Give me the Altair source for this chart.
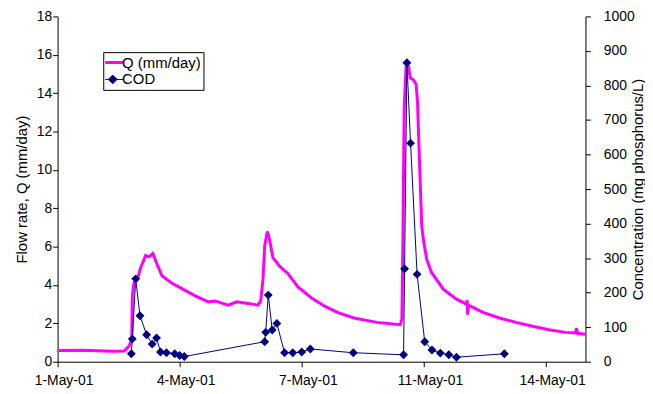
import altair as alt
import pandas as pd

# Flow rate series (day of May 2001, decimal) and Q (mm/day)
q_day = [1.000, 1.699, 2.527, 2.851, 2.989, 3.063, 3.080, 3.127, 3.218, 3.312,
         3.450, 3.541, 3.652, 3.770, 3.908, 4.185, 4.461, 4.831, 5.198, 5.383,
         5.751, 5.980, 6.303, 6.579, 6.654, 6.717, 6.764, 6.836, 6.902, 6.993,
         7.178, 7.408, 7.684, 8.051, 8.421, 8.789, 9.250, 9.894, 10.537, 10.584,
         10.612, 10.648, 10.703, 10.769, 10.813, 10.907, 10.979, 11.018, 11.045, 11.137,
         11.184, 11.275, 11.413, 11.736, 12.103, 12.379, 12.400, 12.415, 12.435, 12.841,
         13.299, 13.760, 14.222, 14.680, 15.140, 15.416, 15.444, 15.472, 15.694]
q_val = [0.58, 0.60, 0.55, 0.56, 0.81, 1.19, 3.43, 4.12, 4.29, 4.90,
         5.54, 5.47, 5.64, 5.07, 4.47, 4.09, 3.81, 3.43, 3.12, 3.17,
         2.95, 3.12, 3.04, 2.95, 3.17, 4.29, 6.02, 6.79, 6.36, 5.42,
         4.98, 4.60, 3.91, 3.35, 2.91, 2.57, 2.28, 2.05, 1.93, 2.22,
         6.36, 13.26, 15.50, 15.40, 14.80, 14.68, 14.47, 13.60, 12.00, 7.05,
         6.36, 5.33, 4.64, 3.78, 3.26, 3.00, 3.20, 2.45, 2.95, 2.57,
         2.28, 2.05, 1.85, 1.67, 1.53, 1.50, 1.75, 1.48, 1.43]

# COD samples (day of May 2001, decimal) and concentration
cod_day = [3.052, 3.080, 3.174, 3.293, 3.478, 3.632, 3.754, 3.864, 4.030, 4.259,
           4.397, 4.527, 6.764, 6.792, 6.864, 6.974, 7.104, 7.317, 7.546, 7.795,
           8.035, 9.231, 10.631, 10.659, 10.723, 10.825, 11.007, 11.219, 11.421, 11.653,
           11.890, 12.103, 13.437]
cod_val = [23, 66, 240, 133, 78, 51, 69, 28, 26, 23,
           18, 15, 58, 85, 193, 92, 111, 26, 26, 28,
           37, 26, 20, 269, 866, 633, 253, 58, 34, 25,
           20, 13, 23]

series_names = ["Q (mm/day)", "COD"]
series_colors = ["#FF00FF", "#000080"]
x_ticks = [1, 4.4, 7.8, 11.2, 14.6]
q_ticks = list(range(0, 19, 2))
cod_ticks = list(range(0, 1001, 100))

df_q = pd.DataFrame({"day": q_day, "Q": q_val, "series": series_names[0]})
df_c = pd.DataFrame({"day": cod_day, "COD": cod_val, "series": series_names[1]})

FONT = "Liberation Sans"
COD_SYMBOL = "M-1,0H1M0,-0.38L0.38,0L0,0.38L-0.38,0Z"

x_enc = alt.X("day:Q",
              scale=alt.Scale(domain=[1, 15.694], nice=False, zero=False),
              axis=alt.Axis(values=x_ticks, labelExpr="floor(datum.value) + '-May-01'",
                            title=None, grid=False, tickSize=5, labelPadding=7,
                            labelOffset=6, labelFlush=False,
                            labelFontSize=14, labelColor="black",
                            domainColor="black", tickColor="black"))

color_enc = alt.Color(
    "series:N",
    scale=alt.Scale(domain=series_names, range=series_colors),
    legend=alt.Legend(
        title=None, orient="none", legendX=46, legendY=36,
        strokeColor="black", fillColor="white", padding=2,
        labelFontSize=15, labelFont=FONT, labelColor="black", labelOffset=2,
        labelLimit=300,
        clipHeight=17, rowPadding=0, symbolSize=543, symbolOpacity=1,
        symbolType={"expr": f"datum.value === 'COD' ? '{COD_SYMBOL}' : 'M-1,0H1'"},
        symbolFillColor={"expr": "datum.value === 'COD' ? '#000080' : 'transparent'"},
        symbolStrokeWidth={"expr": "datum.value === 'COD' ? 1 : 3"},
    ))

q_line = alt.Chart(df_q).mark_line(strokeWidth=3).encode(
    x=x_enc,
    y=alt.Y("Q:Q", scale=alt.Scale(domain=[0, 18], nice=False),
            axis=alt.Axis(values=q_ticks, title="Flow rate, Q (mm/day)", grid=False,
                          tickSize=5, labelPadding=1, labelFontSize=14,
                          labelColor="black", domainColor="black", tickColor="black",
                          titleFontSize=15, titleFontWeight="normal", titleColor="black",
                          titleX=-36, titleY=174, titleAngle=270, titleBaseline="middle",
                          titleAlign="center")),
    color=color_enc,
)

cod_y = alt.Y("COD:Q", scale=alt.Scale(domain=[0, 1000], nice=False),
              axis=alt.Axis(orient="right", values=cod_ticks, format="d",
                            title="Concentration (mg phosphorus/L)", grid=False,
                            tickSize=5, labelPadding=13, labelFontSize=14,
                            labelColor="black", domainColor="black", tickColor="black",
                            titleFontSize=15, titleFontWeight="normal", titleColor="black",
                            titleX=52, titleY=174, titleAngle=270, titleBaseline="middle",
                            titleAlign="center"))

cod_line = alt.Chart(df_c).mark_line(strokeWidth=1).encode(
    x=x_enc, y=cod_y, color=color_enc)
cod_pts = alt.Chart(df_c).mark_point(shape="diamond", filled=True, size=80, opacity=1).encode(
    x=x_enc, y=cod_y, color=color_enc)

cod_layer = alt.layer(cod_line, cod_pts)

chart = alt.layer(q_line, cod_layer).resolve_scale(y="independent").properties(
    width=532, height=348,
    autosize=alt.AutoSizeParams(type="none"),
    padding={"left": 50, "top": 7, "right": 60, "bottom": 25},
).configure(font=FONT).configure_view(stroke="transparent")

chart.save("out.html", embed_options={"renderer": "svg", "actions": False})
